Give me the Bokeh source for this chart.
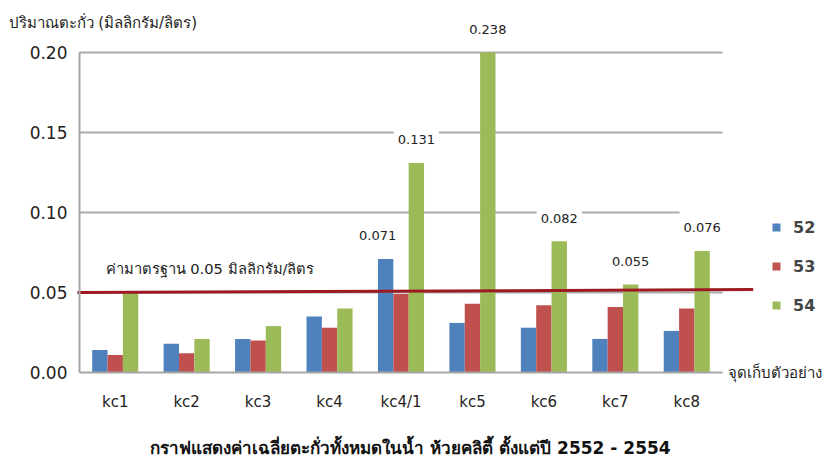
from bokeh.plotting import figure
from bokeh.models import (ColumnDataSource, FixedTicker, NumeralTickFormatter, Range1d,
                          Label, Legend, LegendItem)
from bokeh.embed import file_html
from bokeh.resources import INLINE

# ---- data ----
sites = ["kc1", "kc2", "kc3", "kc4", "kc4/1", "kc5", "kc6", "kc7", "kc8"]
y52 = [0.014, 0.018, 0.021, 0.035, 0.071, 0.031, 0.028, 0.021, 0.026]
y53 = [0.011, 0.012, 0.020, 0.028, 0.049, 0.043, 0.042, 0.041, 0.040]
y54 = [0.050, 0.021, 0.029, 0.040, 0.131, 0.238, 0.082, 0.055, 0.076]
series_names = ["52", "53", "54"]
y_ticks = [0.0, 0.05, 0.10, 0.15, 0.20]
standard = 0.05
y_title = "ปริมาณตะกั่ว (มิลลิกรัม/ลิตร)"
x_title = "จุดเก็บตัวอย่าง"
std_text = "ค่ามาตรฐาน 0.05 มิลลิกรัม/ลิตร"
chart_title = "กราฟแสดงค่าเฉลี่ยตะกั่วทั้งหมดในน้ำ ห้วยคลิตี้ ตั้งแต่ปี 2552 - 2554"
# labelled bars: series index, site, value
lab_series = [0, 2, 2, 2, 2, 2]
lab_sites = ["kc4/1", "kc4/1", "kc5", "kc6", "kc7", "kc8"]
lab_vals = [0.071, 0.131, 0.238, 0.082, 0.055, 0.076]

colors = ["#4F81BD", "#C0504D", "#9BBB59"]
FONT = "DejaVu Sans"
YMAX = 0.20
BW = 0.215
W, H = 833, 460
# frame geometry (pixels): axis area from x=79..722, y=372(0)..52(0.20)
X0PX, X1PX, Y0PX, YTOPPX = 79, 722, 372, 52
n = len(sites)
pxu = (X1PX - X0PX) / n
pyu = (Y0PX - YTOPPX) / YMAX
x_rng = Range1d(-X0PX / pxu, (W - X0PX) / pxu)
y_rng = Range1d(-(H - Y0PX) / pyu, Y0PX / pyu)

p = figure(width=W, height=H, x_range=x_rng, y_range=y_rng,
           output_backend="svg", toolbar_location=None, min_border=0)
p.outline_line_color = None
p.background_fill_color = "white"
p.xgrid.visible = False
p.ygrid.visible = False

centers = [i + 0.5 for i in range(n)]

# axes fixed at origin, inside the frame
p.yaxis.fixed_location = 0
p.xaxis.fixed_location = 0
p.yaxis.bounds = (0, YMAX)
p.xaxis.bounds = (0, n)
p.yaxis.ticker = FixedTicker(ticks=y_ticks)
p.yaxis.formatter = NumeralTickFormatter(format="0.00")
p.xaxis.ticker = FixedTicker(ticks=centers)
p.xaxis.major_label_overrides = {c: s for c, s in zip(centers, sites)}
for ax in (p.xaxis[0], p.yaxis[0]):
    ax.axis_line_color = "#A6A6A6"
    ax.axis_line_width = 2
    ax.major_tick_line_color = None
    ax.minor_tick_line_color = None
    ax.major_tick_out = 0
    ax.major_tick_in = 0
    ax.minor_tick_out = 0
    ax.major_label_text_font = FONT
    ax.major_label_text_color = "#222222"
p.yaxis.major_label_text_font_size = "17px"
p.yaxis.major_label_standoff = 12
p.xaxis.major_label_text_font_size = "15px"
p.xaxis.major_label_standoff = 20

# horizontal gridlines across the axis span
gticks = y_ticks[1:]
p.segment(x0=[0] * len(gticks), x1=[n] * len(gticks), y0=gticks, y1=gticks,
          line_color="#ABABAB", line_width=2)

# bars (clipped at the axis maximum like the original)
series = [y52, y53, y54]
renderers = []
for k, (vals, c) in enumerate(zip(series, colors)):
    off = (k - 1) * BW
    src = ColumnDataSource(dict(x=[cx + off for cx in centers], top=[min(v, YMAX) for v in vals]))
    r = p.vbar(x="x", top="top", width=BW, bottom=0, source=src, fill_color=c, line_color=None)
    renderers.append(r)

# standard line
p.segment(x0=[-0.03], x1=[n + 0.43], y0=[standard], y1=[standard + 0.0018],
          line_color="#9E1A22", line_width=3)
p.add_layout(Label(x=0.364, y=0.065, text=std_text, text_baseline="middle",
                   text_font=FONT, text_font_size="14.7px", text_color="#222222"))

# value labels with white boxes
for si, s, v in zip(lab_series, lab_sites, lab_vals):
    cx = centers[sites.index(s)] + (si - 1) * BW
    p.add_layout(Label(x=cx, y=min(v, YMAX), y_offset=23, x_offset=-8 if si == 0 else 0,
                       text="%.3f" % v, text_align="center", text_baseline="middle",
                       text_font=FONT, text_font_size="13px", text_color="#222222",
                       background_fill_color="white", padding=(4, 14)))

# titles
p.add_layout(Label(x=(8 - X0PX) / pxu, y=(Y0PX - 22) / pyu, text=y_title, text_baseline="middle",
                   text_font=FONT, text_font_size="15px", text_color="#222222"))
p.add_layout(Label(x=n, y=0, x_offset=5, text=x_title, text_baseline="middle",
                   text_font=FONT, text_font_size="15px", text_color="#222222"))
p.add_layout(Label(x=(410 - X0PX) / pxu, y=(Y0PX - 447) / pyu, text=chart_title,
                   text_align="center", text_baseline="middle",
                   text_font=FONT, text_font_size="17px", text_font_style="bold", text_color="#111111"))

legend = Legend(items=[LegendItem(label=nm, renderers=[r]) for nm, r in zip(series_names, renderers)],
                location=(771, 145), glyph_width=10, glyph_height=10, label_height=20,
                spacing=19, padding=0, margin=0, label_standoff=12,
                label_text_font=FONT, label_text_font_size="16px", label_text_font_style="bold",
                border_line_color=None, background_fill_alpha=0)
p.add_layout(legend, "center")

open("out.html", "w").write(file_html(p, INLINE))
